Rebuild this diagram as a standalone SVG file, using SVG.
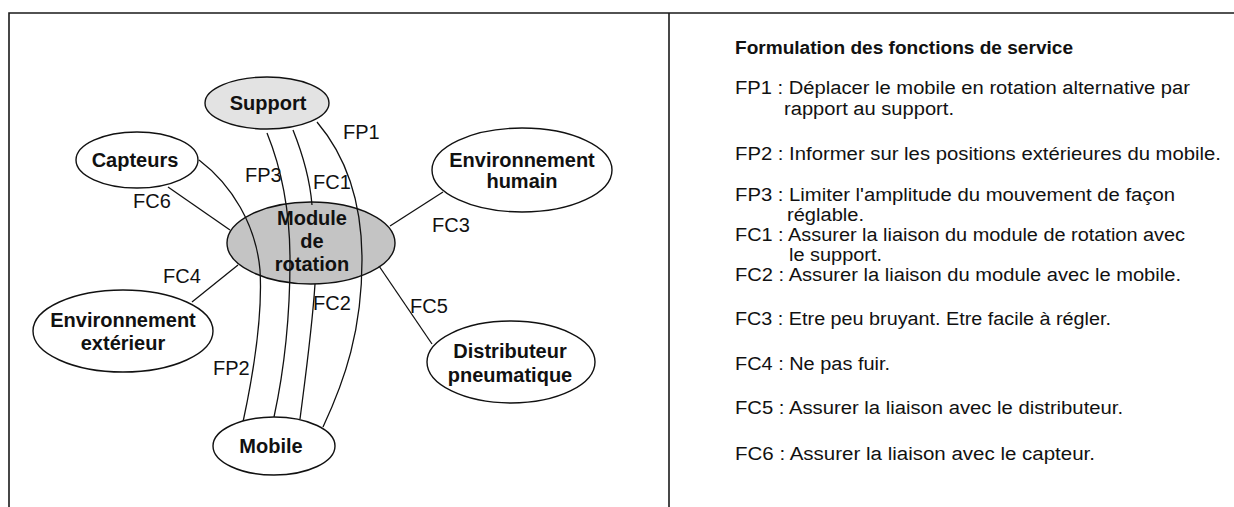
<svg xmlns="http://www.w3.org/2000/svg" width="1234" height="507" viewBox="0 0 1234 507">
<style>
.frame{stroke:#1a1a1a;stroke-width:1.6;fill:none}
.node{stroke:#111;stroke-width:1.4;fill:#fff}
.shaded{fill:#e3e3e3}
.dark{fill:#c4c4c4}
.nl{font-family:"Liberation Sans",Arial,sans-serif;font-weight:bold;font-size:20px;fill:#111;text-anchor:middle}
.cl{font-family:"Liberation Sans",Arial,sans-serif;font-size:20px;fill:#111}
.conn{stroke:#111;stroke-width:1.3;fill:none}
.rt{font-family:"Liberation Sans",Arial,sans-serif;font-size:18px;fill:#111}
.rh{font-family:"Liberation Sans",Arial,sans-serif;font-size:18px;font-weight:bold;fill:#111}
</style>
<rect width="1234" height="507" fill="#fff"/>
<g id="frame">
<path class="frame" d="M9,507 V13 H1234"/>
<path class="frame" d="M669,13 V507"/>
</g>
<g id="module">
<ellipse class="node dark" cx="311" cy="243" rx="84" ry="41"/>
<text class="nl" x="312" y="225">Module</text>
<text class="nl" x="312" y="248">de</text>
<text class="nl" x="312" y="271">rotation</text>
</g>
<g id="connectors">
<path class="conn" d="M199,160 C232,185 256,225 260,270 C263,320 252,380 243,422"/>
<path class="conn" d="M267,133 C282,170 290,210 290,260 C290,330 282,380 274,417"/>
<path class="conn" d="M293,130 C303,155 310,180 312,205"/>
<path class="conn" d="M315,284 C312,330 305,380 300,419"/>
<path class="conn" d="M317,122 C345,155 362,200 362,260 C362,330 345,380 323,427"/>
<path class="conn" d="M168,187 L230,230"/>
<path class="conn" d="M443,192 L390,226"/>
<path class="conn" d="M192,302 L238,265"/>
<path class="conn" d="M379,266 L432,344"/>
<text class="cl" x="343" y="139">FP1</text>
<text class="cl" x="245" y="182">FP3</text>
<text class="cl" x="313" y="189">FC1</text>
<text class="cl" x="133" y="208">FC6</text>
<text class="cl" x="432" y="232">FC3</text>
<text class="cl" x="163" y="283">FC4</text>
<text class="cl" x="313" y="310">FC2</text>
<text class="cl" x="410" y="313">FC5</text>
<text class="cl" x="213" y="375">FP2</text>
</g>
<g id="support">
<ellipse class="node shaded" cx="267" cy="103" rx="62" ry="26"/>
<text class="nl" x="268" y="110">Support</text>
</g>
<g id="capteurs">
<ellipse class="node" cx="137" cy="160" rx="61" ry="28"/>
<text class="nl" x="135" y="167">Capteurs</text>
</g>
<g id="env-humain">
<ellipse class="node" cx="522" cy="170" rx="90" ry="42"/>
<text class="nl" x="522" y="167">Environnement</text>
<text class="nl" x="522" y="188">humain</text>
</g>
<g id="env-exterieur">
<ellipse class="node" cx="123" cy="331" rx="90" ry="41"/>
<text class="nl" x="123" y="327">Environnement</text>
<text class="nl" x="123" y="350">extérieur</text>
</g>
<g id="distributeur">
<ellipse class="node" cx="511" cy="362" rx="84" ry="41"/>
<text class="nl" x="510" y="358">Distributeur</text>
<text class="nl" x="510" y="382">pneumatique</text>
</g>
<g id="mobile">
<ellipse class="node" cx="274" cy="446" rx="61" ry="29"/>
<text class="nl" x="271" y="453">Mobile</text>
</g>
<g id="service-functions">
<text class="rh" x="735" y="54" textLength="338" lengthAdjust="spacingAndGlyphs">Formulation des fonctions de service</text>
<text class="rt" x="735" y="94" textLength="455" lengthAdjust="spacingAndGlyphs">FP1 : Déplacer le mobile en rotation alternative par</text>
<text class="rt" x="784" y="115" textLength="170" lengthAdjust="spacingAndGlyphs">rapport au support.</text>
<text class="rt" x="735" y="160" textLength="486" lengthAdjust="spacingAndGlyphs">FP2 : Informer sur les positions extérieures du mobile.</text>
<text class="rt" x="735" y="201" textLength="440" lengthAdjust="spacingAndGlyphs">FP3 : Limiter l'amplitude du mouvement de façon</text>
<text class="rt" x="787" y="221" textLength="77" lengthAdjust="spacingAndGlyphs">réglable.</text>
<text class="rt" x="735" y="241" textLength="450" lengthAdjust="spacingAndGlyphs">FC1 : Assurer la liaison du module de rotation avec</text>
<text class="rt" x="789" y="261" textLength="93" lengthAdjust="spacingAndGlyphs">le support.</text>
<text class="rt" x="735" y="281" textLength="446" lengthAdjust="spacingAndGlyphs">FC2 : Assurer la liaison du module avec le mobile.</text>
<text class="rt" x="735" y="325" textLength="376" lengthAdjust="spacingAndGlyphs">FC3 : Etre peu bruyant. Etre facile à régler.</text>
<text class="rt" x="735" y="370" textLength="155" lengthAdjust="spacingAndGlyphs">FC4 : Ne pas fuir.</text>
<text class="rt" x="735" y="414" textLength="388" lengthAdjust="spacingAndGlyphs">FC5 : Assurer la liaison avec le distributeur.</text>
<text class="rt" x="735" y="460" textLength="360" lengthAdjust="spacingAndGlyphs">FC6 : Assurer la liaison avec le capteur.</text>
</g>
</svg>
